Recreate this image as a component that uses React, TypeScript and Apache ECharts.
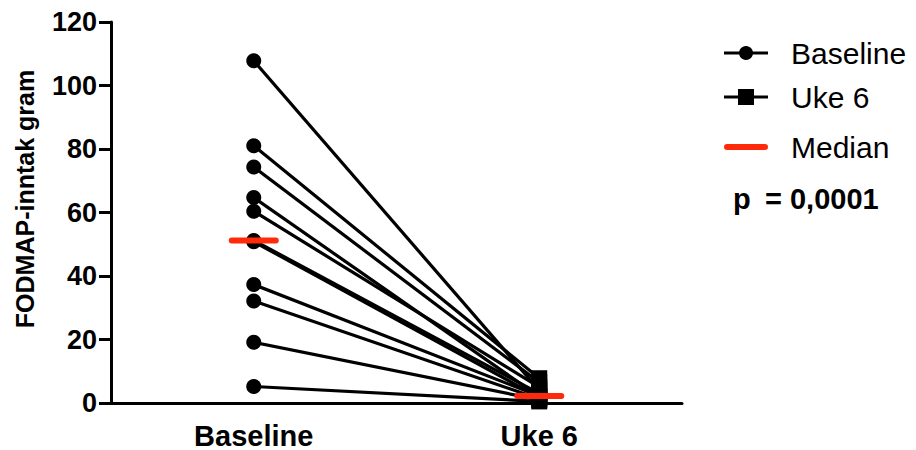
import React, { useEffect, useRef } from "react";
import * as echarts from "echarts";

const categories = ["Baseline", "Uke 6"];
const baselineValues = [107.8, 81.0, 74.3, 64.7, 60.4, 51.2, 50.8, 37.3, 32.1, 19.1, 5.2];
const uke6Values = [4.0, 7.8, 6.5, 2.0, 5.0, 3.0, 1.8, 2.2, 1.3, 1.0, 0.5];
const medians = [51.2, 2.2];
const yTicks = { min: 0, max: 120, interval: 20 };
const yAxisTitle = "FODMAP-inntak gram";
const legendItems = ["Baseline", "Uke 6", "Median"];
const pText = ["p", "= 0,0001"];

const FONT = "'Liberation Sans', Arial, sans-serif";
const RED = "#ff2a0a";

export default function App() {
  const ref = useRef<HTMLDivElement>(null);
  useEffect(() => {
    if (!ref.current) return;
    const chart = echarts.init(ref.current, null, { renderer: "svg" });
    const subjectSeries = baselineValues.map((b, i) => ({
      type: "line",
      data: [
        { value: b, symbol: "circle", symbolSize: 15 },
        { value: uke6Values[i], symbol: "rect", symbolSize: 16 },
      ],
      lineStyle: { color: "#000", width: 3.2 },
      itemStyle: { color: "#000", borderWidth: 0 },
      z: 2,
      silent: true,
    }));
    const medianSeries = {
      type: "custom",
      z: 5,
      data: medians.map((m, i) => [i, m]),
      renderItem: (_params: any, api: any) => {
        const p = api.coord([api.value(0), api.value(1)]);
        return {
          type: "line",
          shape: { x1: p[0] - 22, y1: p[1], x2: p[0] + 22, y2: p[1] },
          style: { stroke: RED, lineWidth: 6, lineCap: "round" },
        };
      },
    };
    const lx1 = 724, lx2 = 768, lcx = 746;
    const rows = [53, 97, 147];
    const graphic: any[] = [
      { type: "line", shape: { x1: lx1, y1: rows[0], x2: lx2, y2: rows[0] }, style: { stroke: "#000", lineWidth: 3 } },
      { type: "circle", shape: { cx: lcx, cy: rows[0], r: 7 }, style: { fill: "#000" } },
      { type: "line", shape: { x1: lx1, y1: rows[1], x2: lx2, y2: rows[1] }, style: { stroke: "#000", lineWidth: 3 } },
      { type: "rect", shape: { x: lcx - 8, y: rows[1] - 8, width: 16, height: 16 }, style: { fill: "#000" } },
      { type: "line", shape: { x1: lx1 + 3, y1: rows[2], x2: lx2 - 3, y2: rows[2] }, style: { stroke: RED, lineWidth: 6, lineCap: "round" } },
      ...legendItems.map((t, i) => ({
        type: "text",
        x: 791,
        y: rows[i],
        style: { text: t, font: `30px ${FONT}`, fill: "#000", verticalAlign: "middle", align: "left" },
      })),
      { type: "text", x: 733, y: 199, style: { text: pText[0], font: `bold 29px ${FONT}`, fill: "#000", verticalAlign: "middle" } },
      { type: "text", x: 765, y: 199, style: { text: pText[1], font: `bold 29px ${FONT}`, fill: "#000", verticalAlign: "middle" } },
      {
        type: "text",
        x: 25,
        y: 199,
        rotation: Math.PI / 2,
        style: { text: yAxisTitle, font: `bold 25px ${FONT}`, fill: "#000", verticalAlign: "middle", align: "center" },
      },
    ];
    chart.setOption({
      animation: false,
      grid: { left: 111, right: 234, top: 22, bottom: 44, containLabel: false },
      xAxis: {
        type: "category",
        data: categories,
        boundaryGap: true,
        axisLine: { lineStyle: { color: "#000", width: 3 } },
        axisTick: { alignWithLabel: true, length: 12, lineStyle: { color: "#000", width: 3 } },
        axisLabel: { color: "#000", fontFamily: FONT, fontWeight: "bold", fontSize: 29, margin: 18 },
      },
      yAxis: {
        type: "value",
        min: yTicks.min,
        max: yTicks.max,
        interval: yTicks.interval,
        axisLine: { show: true, lineStyle: { color: "#000", width: 3 } },
        axisTick: { show: true, length: 12, lineStyle: { color: "#000", width: 3 } },
        splitLine: { show: false },
        axisLabel: { color: "#000", fontFamily: FONT, fontWeight: "bold", fontSize: 27, margin: 14 },
      },
      series: [...subjectSeries, medianSeries],
      graphic,
    });
    return () => chart.dispose();
  }, []);
  return <div ref={ref} style={{ width: 916, height: 450, position: "absolute", left: 0, top: 0 }} />;
}
